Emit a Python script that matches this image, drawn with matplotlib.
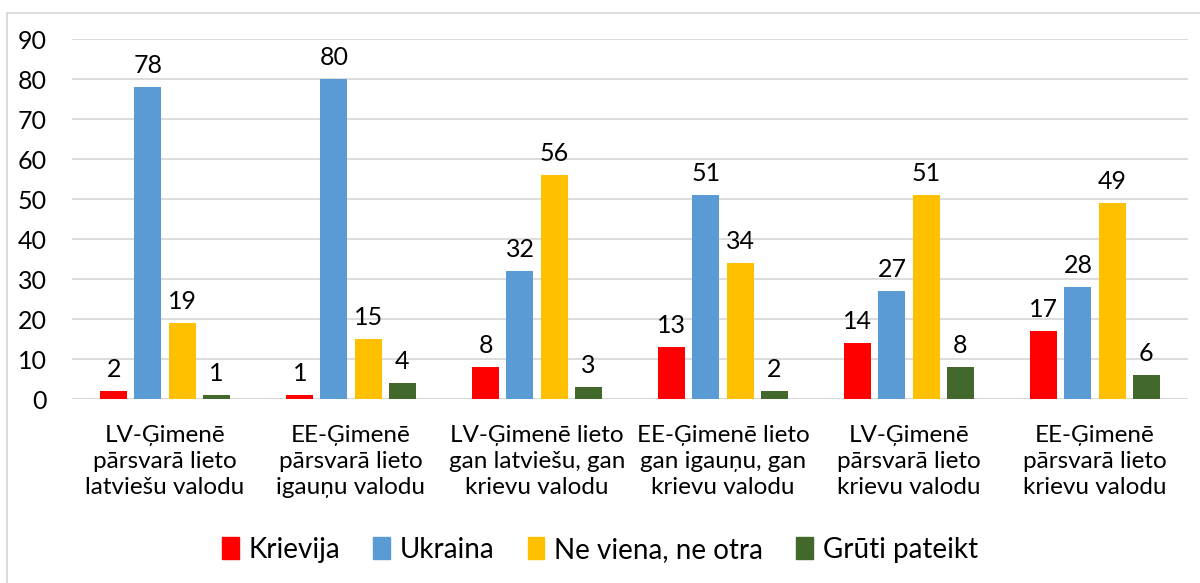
import numpy as np
import matplotlib
matplotlib.use('Agg')
import matplotlib.pyplot as plt
from matplotlib.lines import Line2D

plt.rcParams['font.family'] = ['Lato', 'DejaVu Sans']

CATEGORIES = [
    'LV-Ģimenē\npārsvarā lieto\nlatviešu valodu',
    'EE-Ģimenē\npārsvarā lieto\nigauņu valodu',
    'LV-Ģimenē lieto\ngan latviešu, gan\nkrievu valodu',
    'EE-Ģimenē lieto\ngan igauņu, gan\nkrievu valodu',
    'LV-Ģimenē\npārsvarā lieto\nkrievu valodu',
    'EE-Ģimenē\npārsvarā lieto\nkrievu valodu',
]
SERIES_NAMES = ['Krievija', 'Ukraina', 'Ne viena, ne otra', 'Grūti pateikt']
KRIEVIJA = [2, 1, 8, 13, 14, 17]
UKRAINA = [78, 80, 32, 51, 27, 28]
NE_VIENA = [19, 15, 56, 34, 51, 49]
GRUTI = [1, 4, 3, 2, 8, 6]
COLORS = ['#FF0000', '#5B9BD5', '#FFC000', '#43682B']

SLOT = 0.183
BAR_WIDTH = 0.145


def plotChart():
    fig = plt.figure(figsize=(12, 5.83), dpi=100)
    ax = fig.add_axes([0.06, 0.3156, 0.93, 0.6174])

    x = np.arange(len(CATEGORIES))
    series = [KRIEVIJA, UKRAINA, NE_VIENA, GRUTI]
    for i, (values, name, color) in enumerate(zip(series, SERIES_NAMES, COLORS)):
        pos = x + (i - 1.5) * SLOT
        bars = ax.bar(pos, values, BAR_WIDTH, color=color, label=name, zorder=3)
        ax.bar_label(bars, padding=7, fontsize=18, color='#000000')

    ax.set_ylim(0, 90)
    ax.set_xlim(-0.5, len(CATEGORIES) - 0.5)
    ax.set_yticks(range(0, 91, 10))
    ax.yaxis.grid(True, color='#D9D9D9', linewidth=1.3, zorder=0)
    for side in ['top', 'right', 'left', 'bottom']:
        ax.spines[side].set_visible(False)
    ax.axhline(0, color='#D9D9D9', linewidth=1.3, zorder=1)
    ax.tick_params(axis='both', length=0, labelsize=18)
    ax.tick_params(axis='y', pad=18)
    ax.tick_params(axis='x', pad=19)
    ax.set_xticks(x)
    ax.set_xticklabels(CATEGORIES, linespacing=1.28, fontsize=17.5)

    handles = [plt.Rectangle((0, 0), 1, 1, color=c) for c in COLORS]
    fig.legend(handles, SERIES_NAMES, loc='center', bbox_to_anchor=(0.5, 0.057),
               ncol=4, frameon=False, fontsize=20, handlelength=0.6,
               handleheight=0.8, handletextpad=0.35, columnspacing=1.2)

    # chart area border
    fig.add_artist(Line2D([7 / 1200, 7 / 1200], [0, 1 - 13 / 583],
                          transform=fig.transFigure, color='#D9D9D9', linewidth=1.3))
    fig.add_artist(Line2D([7 / 1200, 1], [1 - 13 / 583, 1 - 13 / 583],
                          transform=fig.transFigure, color='#D9D9D9', linewidth=1.3))

    fig.savefig('out.png', dpi=100, facecolor='white')


if __name__ == '__main__':
    plotChart()
